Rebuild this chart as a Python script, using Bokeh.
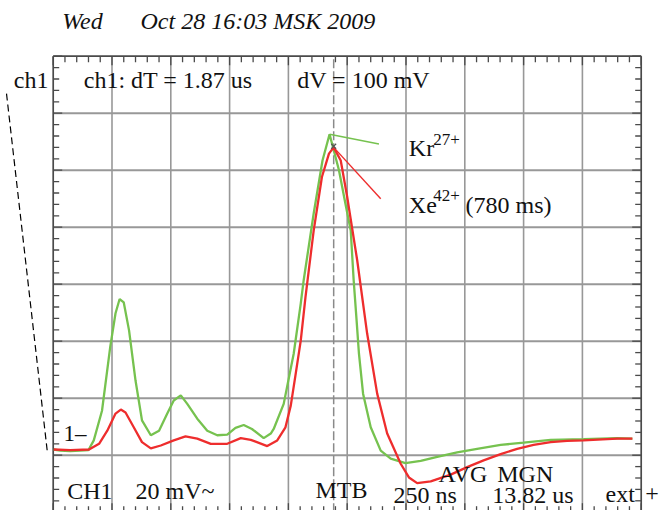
import numpy as np
from bokeh.plotting import figure
from bokeh.models import Range1d
from bokeh.core.properties import value
from bokeh.embed import file_html
from bokeh.resources import INLINE

# ---- data (screen divisions: x = time div, y = voltage div) ----
green_x = [0.01, 0.12, 0.29, 0.46, 0.60, 0.69, 0.83, 0.97, 1.06, 1.13, 1.20, 1.29, 1.40, 1.51,
           1.66, 1.80, 1.94, 2.05, 2.17, 2.28, 2.45, 2.62, 2.79, 2.96, 3.10, 3.24, 3.38, 3.58,
           3.70, 3.75, 3.92, 4.09, 4.21, 4.26, 4.43, 4.58, 4.70, 4.86, 4.97, 5.06, 5.11, 5.16,
           5.20, 5.27, 5.40, 5.57, 5.74, 5.99, 6.25, 6.53, 6.87, 7.21, 7.61, 8.00, 8.46, 9.02,
           9.59, 9.85]
green_y = [1.10, 1.08, 1.07, 1.08, 1.09, 1.26, 1.78, 2.90, 3.49, 3.74, 3.68, 3.19, 2.31, 1.61,
           1.35, 1.43, 1.73, 1.96, 2.05, 1.90, 1.64, 1.43, 1.35, 1.36, 1.48, 1.53, 1.46, 1.30,
           1.38, 1.46, 1.90, 2.78, 3.66, 4.07, 5.24, 6.17, 6.63, 6.00, 5.41, 4.94, 4.07, 3.36,
           2.78, 2.08, 1.49, 1.08, 0.94, 0.86, 0.90, 0.97, 1.05, 1.11, 1.18, 1.22, 1.27, 1.28,
           1.30, 1.29]

red_x = [0.01, 0.29, 0.61, 0.78, 0.92, 1.06, 1.15, 1.23, 1.37, 1.51, 1.66, 1.83, 2.05, 2.25,
         2.45, 2.68, 2.96, 3.19, 3.36, 3.64, 3.81, 3.95, 4.04, 4.12, 4.21, 4.29, 4.43, 4.57,
         4.69, 4.77, 4.89, 5.00, 5.17, 5.34, 5.51, 5.68, 5.91, 6.05, 6.19, 6.42, 6.76, 7.04,
         7.32, 7.61, 7.89, 8.17, 8.46, 8.74, 9.02, 9.59, 9.85]
red_y = [1.10, 1.09, 1.10, 1.20, 1.43, 1.73, 1.80, 1.75, 1.49, 1.23, 1.12, 1.17, 1.26, 1.33,
         1.29, 1.20, 1.20, 1.30, 1.27, 1.16, 1.26, 1.49, 1.87, 2.40, 3.01, 3.77, 4.94, 5.88,
         6.29, 6.40, 6.17, 5.53, 4.42, 3.13, 2.08, 1.38, 0.85, 0.61, 0.51, 0.54, 0.66, 0.79,
         0.91, 1.02, 1.11, 1.18, 1.23, 1.25, 1.26, 1.29, 1.29]

# label anchors for the two peaks (end of leader lines)
green_label_end = (5.54, 6.46)
red_label_end = (5.57, 5.50)

# scope graticule (10 x 8 divisions, 5 minor ticks per division)
x_major = list(range(0, 11))
y_major = list(range(0, 9))
x_minor = [round(i * 0.2, 2) for i in range(51) if i % 5]
y_minor = [round(i * 0.2, 2) for i in range(41) if i % 5]

# ---- figure: frame covers the whole canvas, graticule drawn inside ----
PX_X, PX_Y = 58.8, 57.0          # pixels per division
X0, X1 = -52.7 / PX_X, (662 - 52.7) / PX_X
Y0, Y1 = (511.7 - 510) / PX_Y, 511.7 / PX_Y
p = figure(width=662, height=510, x_range=Range1d(X0, X1), y_range=Range1d(Y0, Y1),
           output_backend="svg", toolbar_location=None,
           x_axis_type=None, y_axis_type=None, min_border=0,
           outline_line_color=None, background_fill_color="white")

GRID = "#989898"
AX = "#4a4a4a"
xl, xr = x_major[0], x_major[-1]
yb, yt = y_major[0], y_major[-1]

# grid lines
gx = x_major[1:-1]
p.segment(x0=gx, y0=[yb] * len(gx), x1=gx, y1=[yt] * len(gx), line_color=GRID, line_width=1.6)
gy = y_major[1:-1]
p.segment(x0=[xl] * len(gy), y0=gy, x1=[xr] * len(gy), y1=gy, line_color=GRID, line_width=2.0)

# ticks on the frame, pointing inward
def vticks(xpos, sign, ys, length):
    n = len(ys)
    p.segment(x0=[xpos] * n, y0=ys, x1=[xpos + sign * length / PX_X] * n, y1=ys,
              line_color=AX, line_width=1.3)

def hticks(ypos, sign, xs, length):
    n = len(xs)
    p.segment(x0=xs, y0=[ypos] * n, x1=xs, y1=[ypos + sign * length / PX_Y] * n,
              line_color=AX, line_width=1.3)

vticks(xl, 1, y_minor, 6); vticks(xl, 1, y_major, 9)
vticks(xr, -1, y_minor, 6); vticks(xr, -1, y_major, 9)
hticks(yt, -1, x_minor, 6); hticks(yt, -1, x_major, 9)
hticks(yb, 1, x_minor, 6); hticks(yb, 1, x_major, 9)

# frame border
p.segment(x0=[xl, xr, xl, xl], y0=[yb, yb, yt, yb], x1=[xl, xr, xr, xr], y1=[yt, yt, yt, yb],
          line_color=AX, line_width=1.7)

# cursor at red peak
ri = int(np.argmax(red_y))
gi = int(np.argmax(green_y))
p.segment(x0=[red_x[ri]], y0=[yb], x1=[red_x[ri]], y1=[yt],
          line_color="#8a8a8a", line_width=1.5, line_dash="9 3")

# channel offset indicator (dashed diagonal at left)
p.segment(x0=[-0.794], y0=[7.344], x1=[-0.102], y1=[green_y[0] - 0.02],
          line_color="black", line_width=1.2, line_dash="7 4")

GREEN = "#76c24f"
RED = "#ee2d2d"
p.line(green_x, green_y, line_color=GREEN, line_width=2.3)
p.line(red_x, red_y, line_color=RED, line_width=2.3)

# leader lines
p.segment(x0=[green_x[gi]], y0=[green_y[gi]], x1=[green_label_end[0]], y1=[green_label_end[1]],
          line_color=GREEN, line_width=1.4)
p.segment(x0=[red_x[ri]], y0=[red_y[ri]], x1=[red_label_end[0]], y1=[red_label_end[1]],
          line_color=RED, line_width=1.4)
p.scatter([red_x[ri]], [red_y[ri] + 0.02], marker="x", size=7, line_color="#555555", line_width=1.2)

SERIF = value("Liberation Serif")
TXT = "#111111"

def txt(xs, ys, texts, size, style="normal"):
    p.text(x=xs, y=ys, text=texts, text_font=SERIF, text_font_size=size,
           text_font_style=style, text_color=TXT, text_align="left",
           text_baseline="alphabetic")

# header
txt([0.153, 1.485], [8.609, 8.609], ["Wed", "Oct 28 16:03 MSK 2009"], "24px", "italic")
# top labels
txt([-0.670, 0.520, 4.150], [7.591, 7.591, 7.591], ["ch1", "ch1: dT = 1.87 us", "dV = 100 mV"], "24px")
# peak labels
txt([6.048, 6.048, 7.012], [6.381, 5.398, 5.398], ["Kr", "Xe", "(780 ms)"], "24px")
txt([6.463, 6.463], [6.537, 5.556], ["27+", "42+"], "17px")
# ground marker
txt([0.175], [1.381], ["1–"], "23px")
# bottom status line
txt([0.238, 1.400, 4.461, 5.787, 7.466, 9.393, 10.07],
    [0.376, 0.376, 0.381, 0.298, 0.298, 0.328, 0.328],
    ["CH1", "20 mV~", "MTB", "250 ns", "13.82 us", "ext", "+"], "24px")
txt([6.553, 7.552], [0.662, 0.662], ["AVG", "MGN"], "24px")

open("out.html", "w").write(file_html(p, INLINE))
